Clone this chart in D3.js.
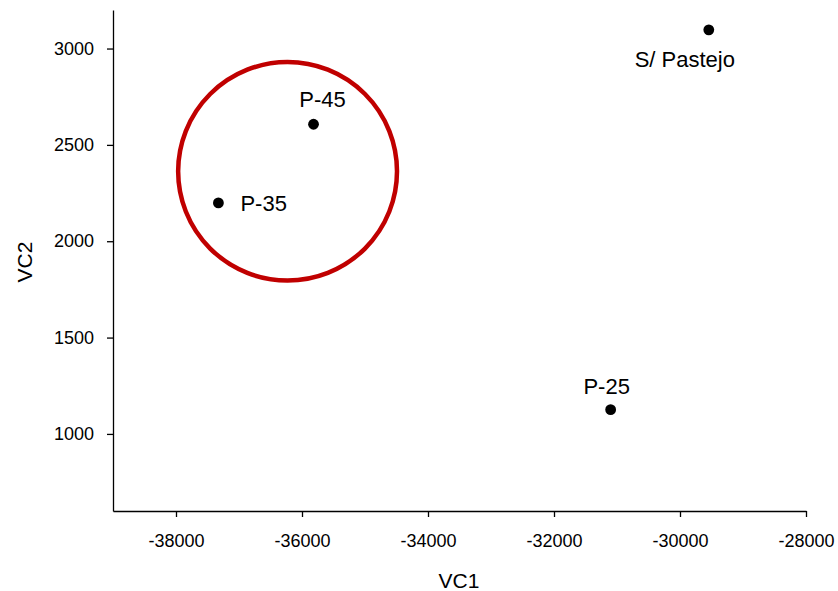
<!DOCTYPE html>
<html>
<head>
<meta charset="utf-8">
<script src="https://cdn.jsdelivr.net/npm/d3@7"></script>
<style>
  body { margin: 0; background: #fff; }
  svg { font-family: "Liberation Sans", Arial, sans-serif; }
  .axis path, .axis line { stroke: #000; stroke-width: 1.3px; }
  .axis text { font-size: 18px; fill: #000; }
</style>
</head>
<body>
<div class="chart"></div>
<script>
'use strict';
(function() {
  // Data
  var names = ['S/ Pastejo', 'P-45', 'P-35', 'P-25'];
  var vc1 = [-29543, -35817, -37327, -31101];
  var vc2 = [3097, 2607, 2199, 1126];
  var xTicks = [-38000, -36000, -34000, -32000, -30000, -28000];
  var yTicks = [1000, 1500, 2000, 2500, 3000];
  // Group circle: center and radii in data units
  var ring = { cx: -36229, cy: 2363, rx: 1737, ry: 567 };

  // Label offsets in px (anchor, dx, dy)
  var labelPos = [['middle', -24, 37], ['middle', 9, -17], ['start', 22, 8], ['middle', -4, -16]];

  //Width and height
  var w = 838;
  var h = 591;

  var x = d3.scaleLinear().domain([-39000, -28000]).range([113, 806]);
  var y = d3.scaleLinear().domain([600, 3200]).range([511, 10]);

  // plain hyphen for negatives, like the original
  var fmt = function(d) { return String(d); };

  var svg = d3.select('.chart')
    .append('svg')
    .attr('width', w)
    .attr('height', h);

  // X axis
  svg.append('g')
    .attr('class', 'axis')
    .attr('transform', 'translate(0,' + y(600) + ')')
    .call(d3.axisBottom(x).tickValues(xTicks).tickSize(6).tickSizeOuter(0).tickPadding(17).tickFormat(fmt));

  // Y axis
  svg.append('g')
    .attr('class', 'axis')
    .attr('transform', 'translate(' + x(-39000) + ',0)')
    .call(d3.axisLeft(y).tickValues(yTicks).tickSize(6).tickSizeOuter(0).tickPadding(13).tickFormat(fmt));

  svg.selectAll('.axis .domain').attr('fill', 'none');
  svg.selectAll('.axis text').attr('font-family', '"Liberation Sans", Arial, sans-serif');

  // Axis titles
  svg.append('text')
    .attr('x', 459)
    .attr('y', 588)
    .attr('text-anchor', 'middle')
    .attr('font-size', '21px')
    .text('VC1');

  svg.append('text')
    .attr('transform', 'translate(32,' + 262 + ') rotate(-90)')
    .attr('text-anchor', 'middle')
    .attr('font-size', '21px')
    .text('VC2');

  // Circle around group
  svg.append('ellipse')
    .attr('cx', x(ring.cx))
    .attr('cy', y(ring.cy))
    .attr('rx', x(ring.cx + ring.rx) - x(ring.cx))
    .attr('ry', y(ring.cy) - y(ring.cy + ring.ry))
    .attr('fill', 'none')
    .attr('stroke', '#c00000')
    .attr('stroke-width', 4.5);

  // Points
  svg.append('g')
    .selectAll('circle')
    .data(names)
    .enter()
    .append('circle')
    .attr('cx', function(d, i) { return x(vc1[i]); })
    .attr('cy', function(d, i) { return y(vc2[i]); })
    .attr('r', 5.4)
    .attr('fill', '#000');

  // Labels
  svg.append('g')
    .selectAll('text')
    .data(names)
    .enter()
    .append('text')
    .attr('x', function(d, i) { return x(vc1[i]) + labelPos[i][1]; })
    .attr('y', function(d, i) { return y(vc2[i]) + labelPos[i][2]; })
    .attr('text-anchor', function(d, i) { return labelPos[i][0]; })
    .attr('font-size', '22px')
    .text(function(d) { return d; });
})();
</script>
</body>
</html>
